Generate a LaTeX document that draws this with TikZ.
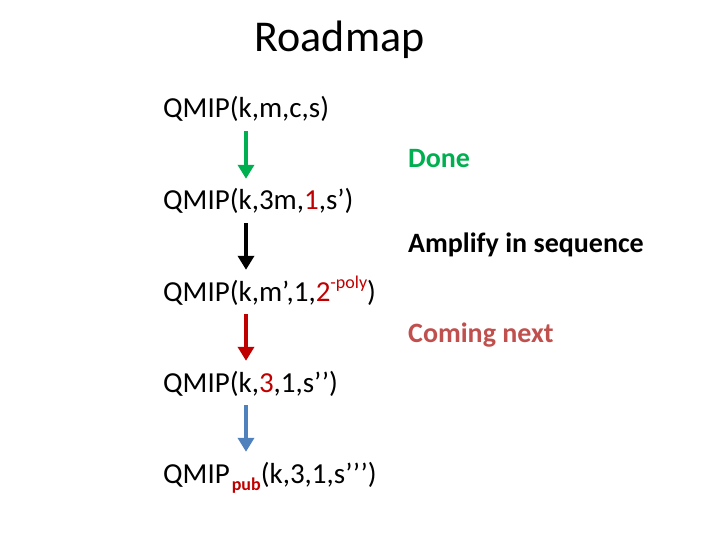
\documentclass[tikz,border=0pt]{standalone}
\usepackage{fontspec}
\setmainfont{Carlito}
\usetikzlibrary{arrows.meta}
\definecolor{doneGreen}{RGB}{0,176,80}
\definecolor{darkRed}{RGB}{192,0,0}
\definecolor{nextRed}{RGB}{192,80,77}
\definecolor{arrBlue}{RGB}{79,129,189}
\begin{document}
\begin{tikzpicture}[x=1pt, y=-1pt, every node/.style={font=\fontsize{29}{33}\selectfont, inner sep=0pt, anchor=base west}]
  \tikzstyle{q}=[text height=21pt, text depth=7pt]
  \tikzstyle{lbl}=[font=\fontsize{28}{32}\selectfont\bfseries]
  \tikzstyle{arr}=[line width=4pt, -{Triangle[length=14pt, width=16pt]}, shorten <=6pt, shorten >=10pt]
  \useasboundingbox (0,0) rectangle (720,540);
  \node[anchor=base, font=\fontsize{44}{50}\selectfont] (title) at (339.5, 52) {Roadmap};
  \node[q] (q1) at (163, 118) {QMIP(k,m,c,s)};
  \node[q] (q2) at (163, 210) {QMIP(k,3m,\textcolor{darkRed}{1},s’)};
  \node[q] (q3) at (163, 301) {QMIP(k,m’,1,\textcolor{darkRed}{2\raisebox{13pt}{\fontsize{18}{18}\selectfont -poly}})};
  \node[q] (q4) at (163, 392) {QMIP(k,\textcolor{darkRed}{3},1,s’\kern0.5pt’)};
  \node[q] (q5) at (163, 483) {QMIP\kern2pt\textcolor{darkRed}{\raisebox{-7pt}{\fontsize{18}{18}\selectfont\bfseries pub}}(k,3,1,s’\kern0.5pt’\kern0.5pt’)};
  \node[lbl, text=doneGreen] (done) at (408, 168) {Done};
  \node[lbl] (amp) at (408, 252) {Amplify in sequence};
  \node[lbl, text=nextRed] (next) at (408, 342) {Coming next};
  \coordinate (ax) at (246, 0);
  \draw[arr, doneGreen] (q1.south -| ax) -- (q2.north -| ax);
  \draw[arr, black] (q2.south -| ax) -- (q3.north -| ax);
  \draw[arr, darkRed] (q3.south -| ax) -- (q4.north -| ax);
  \draw[arr, arrBlue] (q4.south -| ax) -- (q5.north -| ax);
\end{tikzpicture}
\end{document}
